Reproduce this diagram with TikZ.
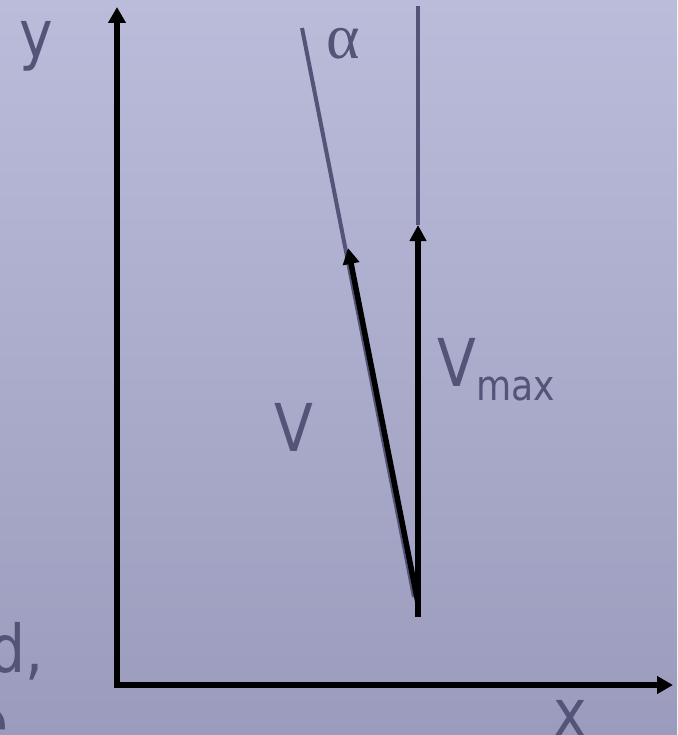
\documentclass[tikz,border=0pt]{standalone}
\usepackage{fontspec}
\setmainfont[FakeStretch=0.86]{DejaVu Sans}
\newfontfamily\greekfont{Liberation Serif}
\usetikzlibrary{arrows.meta}

\definecolor{bgtop}{RGB}{187,187,218}
\definecolor{bgbot}{RGB}{155,155,189}
\definecolor{txtgrey}{RGB}{84,84,120}

\tikzset{
  axis/.style={line width=5.5pt, -{Triangle[width=17pt,length=16pt]}},
  vec/.style={line width=5.5pt, -{Triangle[width=16pt,length=16pt]}},
  guide/.style={line width=4pt, txtgrey},
  lbl/.style={txtgrey, inner sep=0pt, font=\fontsize{66}{70}\selectfont},
}

\begin{document}
\begin{tikzpicture}[x=1pt, y=-1pt]

% ===== 背景 =====
\shade[top color=bgtop, bottom color=bgbot] (0,0) rectangle (677,735);
\useasboundingbox (0,0) rectangle (677,735);

\begin{scope}
  \clip (0,0) rectangle (677,735);

  % 点
  \coordinate (O) at (117,685);
  \coordinate (ytip) at (117,7);
  \coordinate (xtip) at (673,685);
  \coordinate (base) at (418,617);
  \coordinate (vstart) at (418,603);
  \coordinate (vmaxtip) at (418,225);
  \coordinate (vtip) at (348,248);
  \coordinate (top) at (418,6);
  \coordinate (atop) at (302,28);
  \coordinate (abot) at (414,597);

  % ===== 補助線 =====
  \draw[guide] (atop) -- (abot);
  \draw[guide] (top) -- (vmaxtip);

  % ===== 軸 =====
  \draw[axis] (O) -- (ytip);
  \draw[axis] (O) -- (xtip);
  \draw[line width=5.5pt] (114.25,685) -- (O);

  % V と Vmax
  \draw[vec] (base) -- (vmaxtip);
  \draw[vec] (vstart) -- (vtip);

  % ===== ラベル =====
  \node[lbl, anchor=base] (ylbl) at (36,58) {y};
  \node[lbl, anchor=base] (xlbl) at (570,736) {x};
  \node[lbl, anchor=base] (vlbl) at (294,451) {V};
  \node[lbl, anchor=base west] (vmaxlbl) at (437,386)
    {V\raisebox{-14pt}{\fontsize{42}{44}\selectfont max}};
  \node[lbl, anchor=base, font=\greekfont\fontsize{64}{70}\selectfont] (alpha) at (343,59) {α};

  % 左下の切れた文字
  \node[lbl, anchor=base east] (cut1) at (44,672) {d,};
  \node[lbl, anchor=base east] (cut2) at (9,746) {e};
\end{scope}

\end{tikzpicture}
\end{document}
